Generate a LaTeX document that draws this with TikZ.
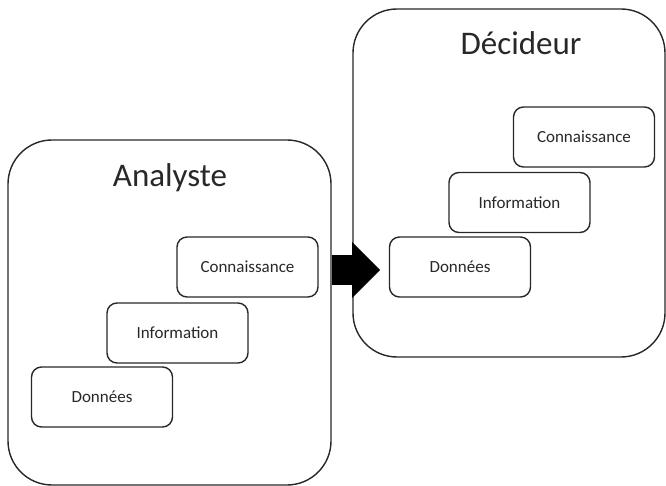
\documentclass[tikz,border=0pt]{standalone}
\usepackage{fontspec}
\setmainfont{Carlito}
\usepackage{tikz}
\usetikzlibrary{arrows.meta}
\definecolor{ink}{RGB}{40,40,40}

\begin{document}
\begin{tikzpicture}[x=1pt,y=1pt]
\tikzstyle{every node}+=[inner sep=0pt]
\tikzstyle{role}=[draw=ink, line width=1.4pt, rounded corners=44pt]
\tikzstyle{level}=[draw=ink, line width=1.4pt, rounded corners=10pt, minimum width=141pt, minimum height=60pt, text=ink, font=\fontsize{17}{20}\selectfont]
\tikzstyle{title}=[text=ink, font=\fontsize{33}{38}\selectfont, anchor=base]
\tikzstyle{bigarrow}=[draw=black, line width=30pt, -{Triangle[length=28pt,width=56pt,line width=0pt]}]

\useasboundingbox (0,0) rectangle (666,-486);

% the two roles
\node [role, minimum width=323pt, minimum height=345pt] (analyste) at (169.5,-312.5) {};
\node [title] (tA) at (170,-187) {Analyste};
\node [role, minimum width=312pt, minimum height=348pt] (decideur) at (509,-183) {};
\node [title] (tD) at (521,-55) {Décideur};

% levels of the analyst
\node [level] (conA) at (247.5,-267) {Connaissance};
\node [level] (infA) at (177.5,-333) {Information};
\node [level] (donA) at (102,-397) {Données};

% levels of the decision maker
\node [level] (conD) at (584,-137) {Connaissance};
\node [level] (infD) at (519.5,-202.5) {Information};
\node [level] (donD) at (460,-267) {Données};

% transfer
\coordinate (arrE) at (380,-270);
\draw [bigarrow] (analyste.east |- arrE) -- (arrE);
\end{tikzpicture}
\end{document}
